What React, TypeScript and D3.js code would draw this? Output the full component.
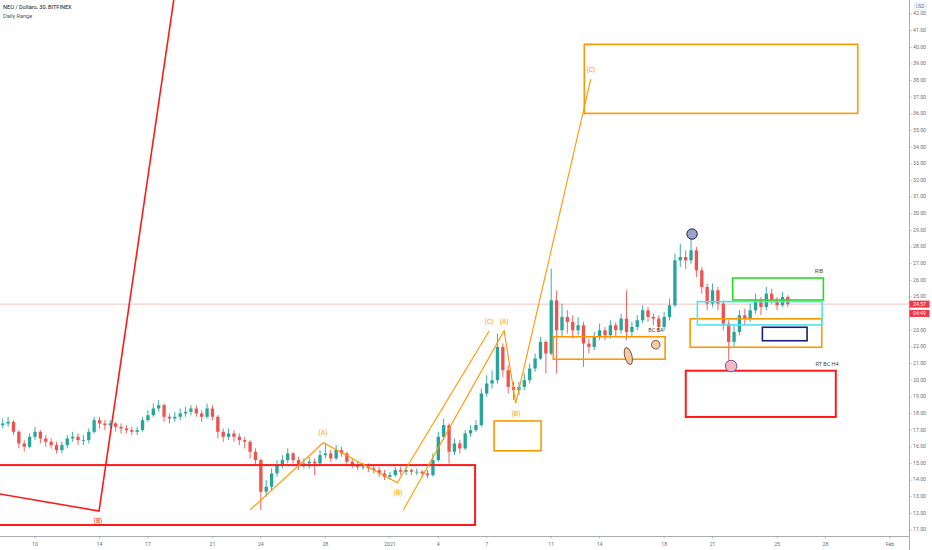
import React from "react";
import * as d3 from "d3";

// ---------- data ----------
const candleStart = "2020-12-08T00:00:00Z"; // 8-hour candles
const candleHours = 8;
const firstOpen = 17.3;
const closes = [17.4,17.5,16.9,16.2,16.0,16.6,16.9,16.5,16.3,16.1,
15.8,16.1,16.5,16.6,16.4,16.4,16.9,17.6,17.4,17.3,
17.4,17.2,17.1,17.0,16.9,17.0,17.6,17.9,18.3,18.5,
17.8,17.7,17.8,18.0,18.1,18.3,18.0,17.8,18.3,17.8,
16.9,16.6,16.8,16.6,16.4,16.3,15.7,15.2,13.3,13.6,
14.4,14.9,15.2,15.6,15.2,14.9,15.0,15.1,15.0,15.5,
15.6,15.3,15.8,15.6,15.1,14.9,14.8,14.8,14.7,14.6,
14.4,14.2,14.3,14.6,14.5,14.6,14.5,14.5,14.4,14.3,
15.2,16.6,17.3,15.7,16.2,15.9,16.8,17.0,17.3,19.2,
19.8,20.0,22.0,20.6,19.6,19.4,19.6,20.0,20.7,21.3,
22.3,21.6,24.8,23.0,23.8,23.5,23.0,23.3,22.2,22.0,
22.6,23.0,22.7,23.3,23.0,23.7,22.9,23.2,23.6,24.2,
23.8,23.7,23.2,23.8,24.5,27.2,27.4,27.2,27.8,26.6,
25.6,24.6,25.4,24.6,23.4,22.3,22.9,23.9,23.7,24.2,
24.8,24.4,25.2,24.8,24.5,25.0,24.57];
const highs = [17.7,17.8,17.6,17.0,16.4,16.8,17.2,17.0,16.7,16.5,
16.3,16.3,16.7,16.9,16.8,16.7,17.1,17.8,17.8,17.6,
17.6,17.5,17.4,17.3,17.2,17.2,17.8,18.2,18.6,18.8,
18.6,18.0,18.1,18.3,18.4,18.5,18.5,18.2,18.6,18.5,
17.9,17.1,17.1,17.0,16.8,16.6,16.4,15.9,15.3,14.0,
14.7,15.2,15.5,15.9,15.7,15.4,15.3,15.4,15.3,15.8,
16.2,15.8,16.1,16.0,15.7,15.3,15.1,15.0,15.0,14.9,
14.8,14.6,14.5,14.8,14.8,14.8,14.7,14.7,14.6,14.6,
15.6,16.9,17.7,17.4,16.5,16.4,17.0,17.3,17.6,19.5,
20.3,20.6,22.8,22.2,20.9,19.9,19.9,20.4,21.0,21.6,
22.6,22.4,26.7,25.4,24.6,24.2,23.9,23.8,23.5,22.5,
22.9,23.4,23.2,23.6,23.5,24.0,25.4,23.5,23.9,24.5,
24.4,24.0,23.9,24.1,24.9,27.6,28.2,27.8,28.5,28.0,
26.8,25.8,25.8,25.6,24.8,23.6,23.3,24.2,24.3,24.6,
25.2,25.0,25.6,25.5,25.0,25.3,25.1];
const lows = [17.1,17.2,16.7,15.9,15.7,15.9,16.4,16.2,16.0,15.9,
15.6,15.6,15.9,16.3,16.1,16.1,16.2,16.8,17.1,17.0,
17.1,16.9,16.8,16.8,16.7,16.7,16.9,17.5,17.8,18.1,
17.5,17.4,17.5,17.6,17.8,17.9,17.8,17.5,17.7,17.6,
16.5,16.3,16.4,16.3,16.1,15.9,15.3,14.9,12.2,13.0,
13.4,14.2,14.7,15.0,15.0,14.6,14.7,14.7,14.3,14.9,
15.3,15.1,15.2,15.4,14.9,14.7,14.6,14.6,14.5,14.4,
14.2,14.0,14.0,14.2,14.3,14.3,14.3,14.3,14.2,14.1,
14.2,15.1,16.4,15.0,15.5,15.6,15.8,16.6,16.9,17.2,
19.0,19.5,19.8,20.2,19.2,18.8,19.1,19.4,19.8,20.5,
21.2,20.4,21.5,20.4,22.6,22.8,22.5,22.7,20.8,21.6,
21.8,22.4,22.4,22.5,22.6,22.8,22.4,22.6,23.0,23.4,
23.5,23.3,22.9,23.0,23.6,24.4,26.8,26.7,27.0,26.2,
25.2,24.2,24.4,24.2,23.0,21.0,22.0,22.7,23.3,23.5,
24.0,23.9,24.2,24.6,24.2,24.4,24.4];

const priceTicks = [11,12,13,14,15,16,17,18,19,20,21,22,23,24,25,26,27,28,29,30,31,32,33,34,35,36,37,38,39,40,41,42];
const dateTicks = ["2020-12-10","2020-12-14","2020-12-17","2020-12-21","2020-12-24","2020-12-28","2021-01-01","2021-01-04","2021-01-07","2021-01-11","2021-01-14","2021-01-18","2021-01-21","2021-01-25","2021-01-28","2021-02-01"];
const dateTickLabels = ["10","14","17","21","24","28","2021","4","7","11","14","18","21","25","28","Feb"];

// drawings: [day offset from 10 Dec 2020, price]
const redWaveLine: [number, number][] = [[-3, 13.3], [3.97, 12.14], [9.5, 48.8]];
const orangeWave1: [number, number][] = [[13.33, 12.2], [17.87, 16.24], [22.46, 13.84], [28.16, 22.97]];
const orangeWave2: [number, number][] = [[22.83, 12.2], [29.08, 22.97], [29.8, 18.61], [34.45, 38.08]];
const waveLabels = [
  { t: "(B)", d: 3.91, p: 11.54, c: "red" },
  { t: "(A)", d: 17.85, p: 16.83, c: "orange" },
  { t: "(B)", d: 22.5, p: 13.22, c: "orange" },
  { t: "(C)", d: 28.15, p: 23.5, c: "orange" },
  { t: "(A)", d: 29.08, p: 23.5, c: "orange" },
  { t: "(B)", d: 29.82, p: 17.97, c: "orange" },
  { t: "(C)", d: 34.47, p: 38.64, c: "orange" },
];
// zones: [d0, d1, pTop, pBottom, kind]
const zones = [
  { d0: -3, d1: 27.28, p0: 14.9, p1: 11.3, k: "red" },
  { d0: 28.46, d1: 31.37, p0: 17.55, p1: 15.76, k: "orange" },
  { d0: 34.05, d1: 51.0, p0: 40.18, p1: 36.03, k: "orange" },
  { d0: 32.13, d1: 39.06, p0: 22.61, p1: 21.26, k: "orange" },
  { d0: 40.61, d1: 48.77, p0: 23.69, p1: 21.98, k: "orange" },
  { d0: 41.06, d1: 48.79, p0: 24.72, p1: 23.32, k: "cyan" },
  { d0: 43.25, d1: 48.87, p0: 26.14, p1: 24.82, k: "green" },
  { d0: 45.09, d1: 47.86, p0: 23.18, p1: 22.37, k: "navy" },
  { d0: 40.34, d1: 49.64, p0: 20.57, p1: 17.79, k: "red" },
];
const zoneLabels = [
  { t: "RIB", d: 48.6, p: 26.52 },
  { t: "RT BC H4", d: 49.1, p: 20.95 },
  { t: "BC BA", d: 38.49, p: 23.0 },
];
const markers = [
  { d: 40.73, p: 28.78, k: "blue" },
  { d: 43.15, p: 20.85, k: "pink" },
  { d: 38.48, p: 22.13, k: "tan" },
  { d: 36.78, p: 21.45, k: "ellipse" },
];

const countdown = "04:49";

// ---------- styles ----------
const W = 932, H = 550;
const PR = 909, PB = 536;
const UP = "#26a69a", DOWN = "#ef5350";
const zoneColor: Record<string, string> = {
  red: "#ff1a1a", orange: "#ff9800", cyan: "#4fe3f2", green: "#22e022", navy: "#1a1f7a",
};
const FONT = "Roboto, 'Liberation Sans', sans-serif";

const BASE = Date.UTC(2020, 11, 10);
const dayDate = (d: number) => new Date(BASE + d * 86400000);

export default function App() {
  const x = d3.scaleTime()
    .domain([new Date("2020-12-10T00:00:00Z"), new Date("2021-02-01T00:00:00Z")])
    .range([35, 890]);
  const y = d3.scaleLinear().domain([11, 42]).range([530, 14]);
  const X = (d: number) => x(dayDate(d));

  const t0 = new Date(candleStart).getTime();
  const candles = closes.map((c, i) => ({
    t: new Date(t0 + i * candleHours * 3600000),
    o: i === 0 ? firstOpen : closes[i - 1],
    c, h: highs[i], l: lows[i],
  }));
  const step = x(new Date(t0 + candleHours * 3600000)) - x(new Date(t0));
  const bw = step * 0.62;
  const line = d3.line<[number, number]>().x((p) => X(p[0])).y((p) => y(p[1]));
  const last = closes[closes.length - 1];

  return (
    <svg width={W} height={H} style={{ position: "absolute", left: 0, top: 0, background: "#fff", fontFamily: FONT }}>
      <defs>
        <clipPath id="plot"><rect x={0} y={0} width={PR} height={PB} /></clipPath>
      </defs>
      <rect x={0} y={0} width={W} height={H} fill="#fff" />
      <g clipPath="url(#plot)">
        {/* price line */}
        <line x1={0} x2={PR} y1={y(last)} y2={y(last)} stroke="#f7b0b0" strokeWidth={0.8} />
        {/* candles */}
        {candles.map((k, i) => {
          const cx = x(k.t);
          const col = k.c >= k.o ? UP : DOWN;
          const top = y(Math.max(k.o, k.c));
          const bot = y(Math.min(k.o, k.c));
          return (
            <g key={i}>
              <line x1={cx} x2={cx} y1={y(k.h)} y2={y(k.l)} stroke={col} strokeWidth={0.9} />
              <rect x={cx - bw / 2} y={top} width={bw} height={Math.max(0.8, bot - top)} fill={col} />
            </g>
          );
        })}
        {/* zones */}
        {zones.map((z, i) => (
          <rect key={i} x={X(z.d0)} y={y(z.p0)} width={X(z.d1) - X(z.d0)} height={y(z.p1) - y(z.p0)}
            fill="none" stroke={zoneColor[z.k]} strokeWidth={z.k === "red" ? 2 : 1.6} />
        ))}
        {/* wave lines */}
        <path d={line(redWaveLine) || ""} fill="none" stroke="#ff1a1a" strokeWidth={1.6} />
        <path d={line(orangeWave1) || ""} fill="none" stroke="#ff9800" strokeWidth={1.1} />
        <path d={line(orangeWave2) || ""} fill="none" stroke="#ff9800" strokeWidth={1.1} />
        {waveLabels.map((l, i) => (
          <text key={i} x={X(l.d)} y={y(l.p)} textAnchor="middle" dominantBaseline="middle" fontSize={6.5}
            fill={l.c === "red" ? "#ff1a1a" : "#ff9800"}>{l.t}</text>
        ))}
        {zoneLabels.map((l, i) => (
          <text key={i} x={X(l.d)} y={y(l.p)} textAnchor="middle" dominantBaseline="middle" fontSize={5.5} fill="#444">{l.t}</text>
        ))}
        {/* markers */}
        {markers.map((m, i) => {
          const cx = X(m.d), cy = y(m.p);
          if (m.k === "blue") return <circle key={i} cx={cx} cy={cy} r={5.2} fill="#9aa3c8" stroke="#1c2366" strokeWidth={1} />;
          if (m.k === "pink") return <circle key={i} cx={cx} cy={cy} r={5.8} fill="#f3b7c9" stroke="#6d5a98" strokeWidth={1} />;
          if (m.k === "tan") return <circle key={i} cx={cx} cy={cy} r={4.3} fill="#f6c9a2" stroke="#7a5a44" strokeWidth={1} />;
          return <ellipse key={i} cx={cx} cy={cy} rx={3.6} ry={8.6} transform={`rotate(-15 ${cx} ${cy})`} fill="#f6c9a2" stroke="#7a5a44" strokeWidth={1} />;
        })}
      </g>

      {/* title */}
      <text x={3} y={9} fontSize={5.6} fill="#131722">NEO / Dollaro, 30, BITFINEX</text>
      <text x={3} y={17.5} fontSize={5.6} fill="#555">Daily Range</text>

      {/* axes */}
      <line x1={PR + 0.5} x2={PR + 0.5} y1={0} y2={H} stroke="#9598a1" strokeWidth={0.8} />
      <line x1={0} x2={PR} y1={PB + 0.5} y2={PB + 0.5} stroke="#9598a1" strokeWidth={0.8} />
      {priceTicks.map((p) => (
        <g key={p}>
          <line x1={PR} x2={PR + 2.5} y1={y(p)} y2={y(p)} stroke="#9598a1" strokeWidth={0.6} />
          <text x={PR + 4} y={y(p)} dominantBaseline="middle" fontSize={5.2} fill="#6a6d78">{p.toFixed(2)}</text>
        </g>
      ))}
      <rect x={914.5} y={3} width={11.5} height={7} rx={1.5} fill="#fff" stroke="#c8cad0" strokeWidth={0.5} />
      <text x={920.2} y={6.7} textAnchor="middle" dominantBaseline="middle" fontSize={4.6} fill="#6a6d78">USD</text>
      <rect x={PR + 0.5} y={y(last) - 3.5} width={20} height={7} fill="#f23645" />
      <text x={PR + 10.5} y={y(last)} textAnchor="middle" dominantBaseline="middle" fontSize={5.2} fill="#fff">{last.toFixed(2)}</text>
      <rect x={PR + 0.5} y={y(last) + 5.8} width={20} height={7} fill="#f23645" />
      <text x={PR + 10.5} y={y(last) + 9.3} textAnchor="middle" dominantBaseline="middle" fontSize={5.2} fill="#fff">{countdown}</text>
      {dateTicks.map((d, i) => {
        const px = x(new Date(d + "T00:00:00Z"));
        return (
          <g key={d}>
            <line x1={px} x2={px} y1={PB} y2={PB + 2.5} stroke="#9598a1" strokeWidth={0.6} />
            <text x={px} y={545} textAnchor="middle" dominantBaseline="middle" fontSize={5.2} fill="#6a6d78">{dateTickLabels[i]}</text>
          </g>
        );
      })}
    </svg>
  );
}
